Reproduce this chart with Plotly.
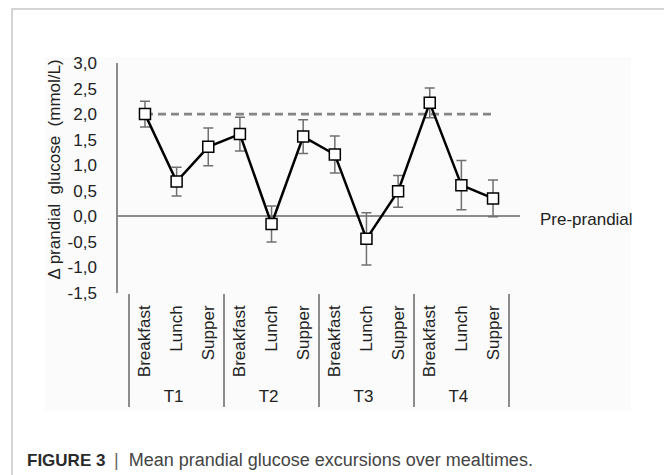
import plotly.graph_objects as go

# ---- data ----
periods = ["T1", "T1", "T1", "T2", "T2", "T2", "T3", "T3", "T3", "T4", "T4", "T4"]
meals = ["Breakfast", "Lunch", "Supper", "Breakfast", "Lunch", "Supper",
         "Breakfast", "Lunch", "Supper", "Breakfast", "Lunch", "Supper"]
delta_glucose = [2.00, 0.68, 1.36, 1.61, -0.15, 1.56, 1.21, -0.44, 0.49, 2.22, 0.61, 0.35]
error = [0.25, 0.28, 0.37, 0.33, 0.35, 0.33, 0.36, 0.51, 0.31, 0.29, 0.48, 0.36]
target_line = [2.0, 2.0, 2.0, 2.0, 2.0, 2.0, 2.0, 2.0, 2.0, 2.0, 2.0, 2.0]
y_ticks = [-1.5, -1.0, -0.5, 0.0, 0.5, 1.0, 1.5, 2.0, 2.5, 3.0]
y_tick_labels = ["-1,5", "-1,0", "-0,5", "0,0", "0,5", "1,0", "1,5", "2,0", "2,5", "3,0"]

FONT = "Liberation Sans, Arial, sans-serif"
TXT = "#222222"

fig = go.Figure()
fig.add_trace(go.Scatter(
    x=[periods, meals], y=target_line, mode="lines",
    line=dict(color="#858585", width=2.7, dash="8px,5px"),
    hoverinfo="skip", showlegend=False))
fig.add_trace(go.Scatter(
    x=[periods, meals], y=delta_glucose, mode="lines+markers",
    line=dict(color="#000000", width=2.5),
    marker=dict(symbol="square", size=11, color="white",
                line=dict(color="#000000", width=1.5)),
    error_y=dict(type="data", array=error, color="#707070", thickness=1.5, width=5),
    showlegend=False))

# plot area in pixels: x 118..520, y 63..293
L, R, T, B = 118, 520, 63, 293
W, H = 664, 475
def px_x(p):
    return (p - L) / (R - L)
def px_y(p):
    return (B - p) / (B - T)

fig.update_layout(
    width=W, height=H,
    margin=dict(l=L, r=W - R, t=T, b=H - B, pad=0),
    paper_bgcolor="white", plot_bgcolor="rgba(0,0,0,0)",
    font=dict(family=FONT, size=17, color=TXT),
    xaxis=dict(type="multicategory", showgrid=False, showline=False, ticks="",
               tickangle=-90, showdividers=True, dividercolor="#8c8c8c", dividerwidth=1.5,
               ticklabelstandoff=8,
               tickfont=dict(size=17, color=TXT)),
    yaxis=dict(range=[-1.5, 3.0], tickvals=y_ticks, ticktext=y_tick_labels,
               showgrid=False, showline=True, linecolor="#8c8c8c", linewidth=1.5,
               zeroline=True, zerolinecolor="#8c8c8c", zerolinewidth=1.5,
               ticks="", ticklabelstandoff=16,
               tickfont=dict(size=17, color=TXT)),
    shapes=[
        dict(type="rect", xref="paper", yref="paper",
             x0=px_x(12), x1=px_x(700), y0=px_y(9), y1=px_y(520),
             line=dict(color="#d4d4d4", width=2), fillcolor="rgba(0,0,0,0)", layer="below"),
        dict(type="rect", xref="paper", yref="paper",
             x0=px_x(45), x1=px_x(631), y0=px_y(57), y1=px_y(411),
             line=dict(width=0), fillcolor="#fbfbfb", layer="below"),
    ],
    annotations=[
        dict(text="Δ prandial  glucose  (mmol/L)", textangle=-90, xref="paper", yref="paper",
             x=px_x(53.5), y=px_y(170), xanchor="center", yanchor="middle", showarrow=False,
             font=dict(size=17, color=TXT)),
        dict(text="Pre-prandial", xref="paper", yref="y", x=px_x(538), y=0,
             xanchor="left", yanchor="middle", yshift=-3, showarrow=False,
             font=dict(size=17, color=TXT)),
        dict(text="<b>FIGURE 3</b>", xref="paper", yref="paper", x=px_x(25), y=px_y(460),
             xanchor="left", yanchor="middle", showarrow=False,
             font=dict(size=17, color="#2a2a2a")),
        dict(text="<span style='color:#666666'>|</span>  Mean prandial glucose excursions over mealtimes.",
             xref="paper", yref="paper", x=px_x(112), y=px_y(460), xanchor="left", yanchor="middle",
             showarrow=False, font=dict(size=18, color="#444444")),
    ],
)

fig.write_html("out.html", config={"displayModeBar": False},
               post_script="document.body.style.margin='0';document.body.style.overflow='hidden';")
